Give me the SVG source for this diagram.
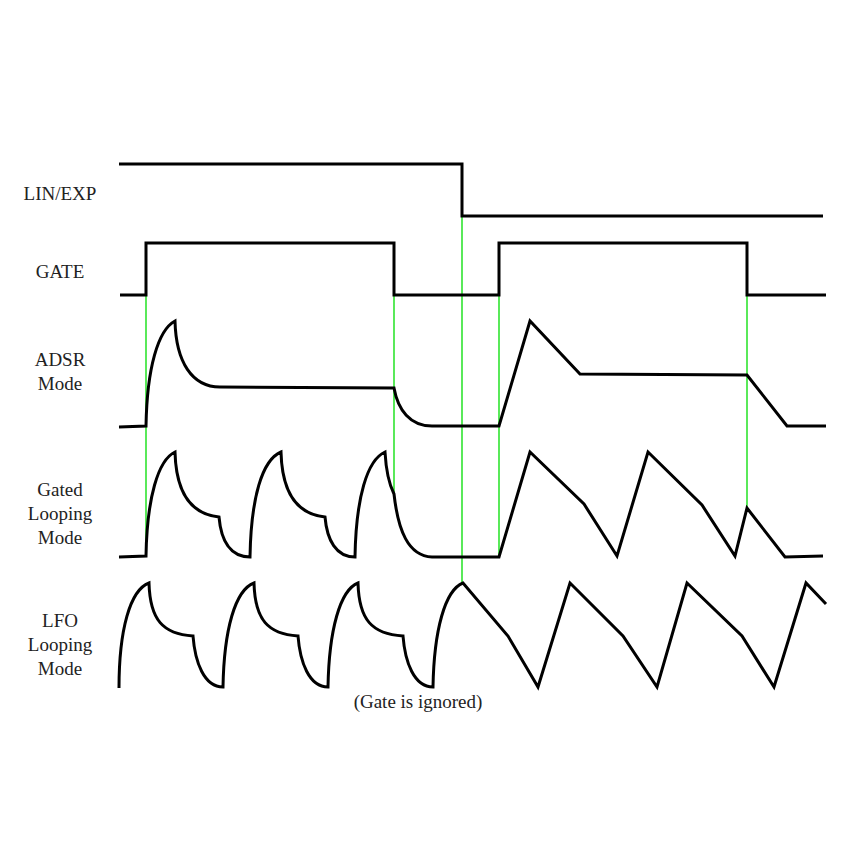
<svg xmlns="http://www.w3.org/2000/svg" width="865" height="865" viewBox="0 0 865 865">
<style>
.bg{fill:#ffffff}
.wave{fill:none;stroke:#000000;stroke-width:3;stroke-linejoin:miter}
.mark{fill:none;stroke:#00dd00;stroke-width:1.3}
.lbl{font-family:"Liberation Serif","Times New Roman",serif;font-size:19px;fill:#222222;text-anchor:middle}
</style>
<rect class="bg" x="0" y="0" width="865" height="865"/>
<g id="connectors">
<line class="mark" x1="146" y1="295" x2="146" y2="557"/>
<line class="mark" x1="394" y1="295" x2="394" y2="494"/>
<line class="mark" x1="462" y1="216" x2="462" y2="583"/>
<line class="mark" x1="499" y1="295" x2="499" y2="557"/>
<line class="mark" x1="747" y1="295" x2="747" y2="508"/>
</g>
<g id="linexp">
<text class="lbl" x="60" y="200">LIN/EXP</text>
<path class="wave" d="M119,164 H462 V216 H823"/>
</g>
<g id="gate">
<text class="lbl" x="60" y="278">GATE</text>
<path class="wave" d="M120,295 H146 V243 H394 V295 H499 V243 H747 V295 H826"/>
</g>
<g id="adsr">
<text class="lbl" x="60" y="366">ADSR</text>
<text class="lbl" x="60" y="390">Mode</text>
<path class="wave" d="M119,427 L146,426 C147,368 158,330 175,321 C176,362 192,387 220,387 L394,388 C398,410 410,426 432,426 L499,426 L530,321 L580,374 L747,375 L787,426 L826,426"/>
</g>
<g id="gated">
<text class="lbl" x="60" y="496">Gated</text>
<text class="lbl" x="60" y="520">Looping</text>
<text class="lbl" x="60" y="544">Mode</text>
<path class="wave" d="M119,557 L146,556 C147,498 158,460 175,452 C176,492 190,514 219,517 C221,540 230,557 250,557 C251,498 262,460 281,452 C282,492 296,514 325,517 C327,540 336,557 355,557 C356,498 367,460 385,452 C386,470 389,484 394,494 C398,530 408,556 432,557 L499,557 L530,452 L584,504 L617,556 L648,452 L702,505 L735,556 L747,508 L785,557 L823,556"/>
</g>
<g id="lfo">
<text class="lbl" x="60" y="627">LFO</text>
<text class="lbl" x="60" y="651">Looping</text>
<text class="lbl" x="60" y="675">Mode</text>
<path class="wave" d="M119,688 C119,630 130,590 149,583 C150,620 163,634 193,636 C195,662 204,687 223,687 C224,630 235,590 254,583 C255,620 268,634 298,636 C300,662 309,687 328,687 C329,630 340,590 358,583 C359,620 372,634 403,636 C405,662 414,687 433,687 C434,630 445,590 463,583 L508,636 L538,687 L570,583 L623,636 L657,687 L687,583 L742,636 L774,687 L806,583 L826,604"/>
</g>
<g id="note">
<text class="lbl" x="418" y="708">(Gate is ignored)</text>
</g>
</svg>
